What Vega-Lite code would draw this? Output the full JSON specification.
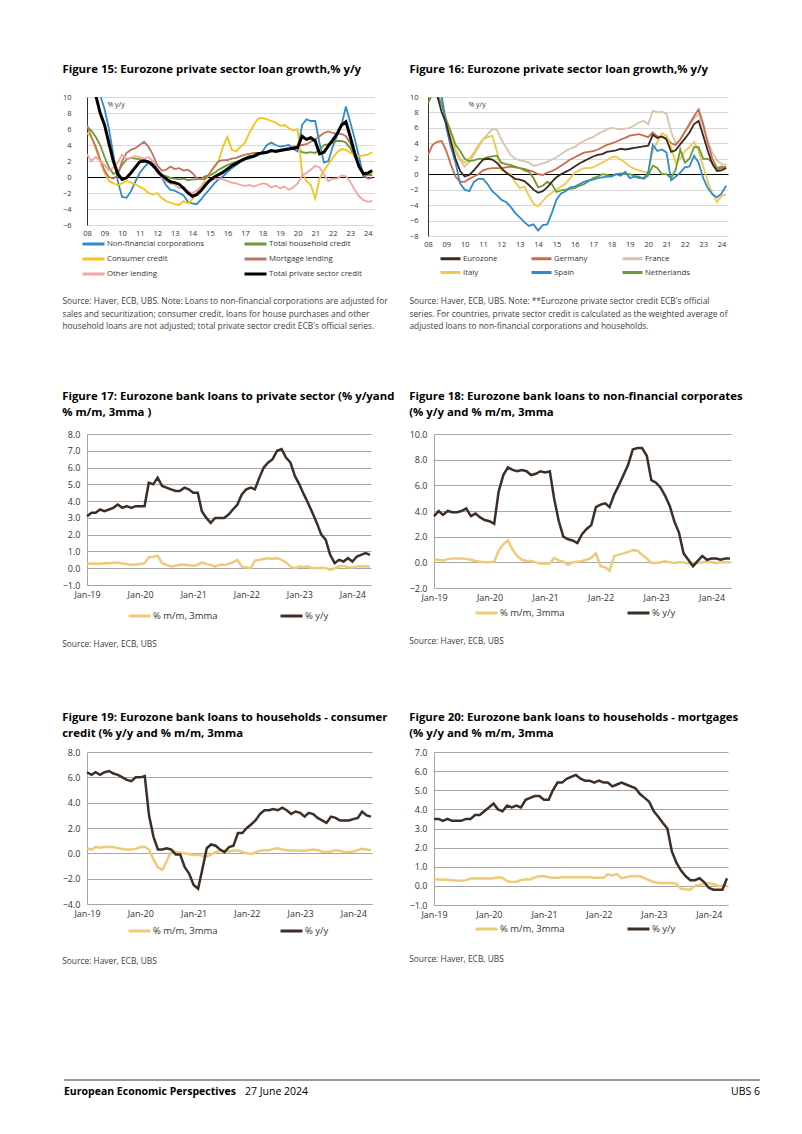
{
"$schema":"https://vega.github.io/schema/vega-lite/v6.json",
"background":"white",
"padding":{"left":62,"top":63,"right":8,"bottom":8},
"config":{
 "font":"Open Sans",
 "view":{"stroke":null},
 "title":{"font":"Open Sans","fontSize":11.4,"fontWeight":"bold","color":"#000000","anchor":"start"},
 "axis":{"labelFont":"Open Sans","labelColor":"#333333","ticks":false,"labelFlush":false,"labelOverlap":false},
 "legend":{"labelFont":"Open Sans","labelColor":"#333333"}
},
"datasets":{
"names":[{"k":"N","name":"Non-financial corporations"},{"k":"H","name":"Total household credit"},{"k":"C","name":"Consumer credit"},{"k":"M","name":"Mortgage lending"},{"k":"O","name":"Other lending"},{"k":"T","name":"Total private sector credit"},{"k":"E","name":"Eurozone"},{"k":"G","name":"Germany"},{"k":"F","name":"France"},{"k":"I","name":"Italy"},{"k":"S","name":"Spain"},{"k":"NL","name":"Netherlands"},{"k":"m","name":"% m/m, 3mma"},{"k":"y","name":"% y/y"}],
"f15":[
{"t":2008,"N":12,"H":6.3,"C":5.5,"M":6.5,"O":2.8,"T":11},
{"t":2008.25,"N":12,"H":5.8,"C":5,"M":5,"O":2,"T":11},
{"t":2008.5,"N":11.5,"H":5,"C":3.5,"M":3.8,"O":2.5,"T":10.2},
{"t":2008.75,"N":10.2,"H":4,"C":2,"M":2.2,"O":2,"T":8},
{"t":2009,"N":8.5,"H":2.5,"C":0.5,"M":0.8,"O":1.5,"T":6.5},
{"t":2009.25,"N":6,"H":1.2,"C":-0.5,"M":0,"O":0.8,"T":4.2},
{"t":2009.5,"N":2.8,"H":0.4,"C":-0.8,"M":-0.2,"O":1.2,"T":2},
{"t":2009.75,"N":-0.5,"H":0.6,"C":-1,"M":0.2,"O":1.8,"T":0.4},
{"t":2010,"N":-2.5,"H":1.5,"C":-0.8,"M":2,"O":2.8,"T":-0.3},
{"t":2010.25,"N":-2.6,"H":2.2,"C":-0.5,"M":3,"O":2.3,"T":-0.1},
{"t":2010.5,"N":-1.8,"H":2.4,"C":-0.7,"M":3.4,"O":2.4,"T":0.5},
{"t":2010.75,"N":-0.6,"H":2.3,"C":-0.9,"M":3.6,"O":2.6,"T":1.2},
{"t":2011,"N":0.5,"H":2.2,"C":-1.2,"M":4,"O":2.5,"T":1.9},
{"t":2011.25,"N":1.2,"H":2.2,"C":-1.5,"M":4.4,"O":2.3,"T":2},
{"t":2011.5,"N":1.8,"H":1.9,"C":-2,"M":3.8,"O":2.5,"T":1.9},
{"t":2011.75,"N":1.9,"H":1.3,"C":-2.2,"M":2.8,"O":2,"T":1.5},
{"t":2012,"N":1,"H":0.8,"C":-2,"M":1.5,"O":0.5,"T":0.8},
{"t":2012.25,"N":0,"H":0.3,"C":-2.6,"M":0.8,"O":0,"T":0.2},
{"t":2012.5,"N":-1,"H":0.1,"C":-3,"M":0.9,"O":-0.5,"T":-0.2},
{"t":2012.75,"N":-1.6,"H":-0.1,"C":-3.2,"M":1.3,"O":-0.8,"T":-0.6},
{"t":2013,"N":-1.7,"H":-0.2,"C":-3.4,"M":1,"O":-1,"T":-0.7},
{"t":2013.25,"N":-2,"H":-0.3,"C":-3.5,"M":1.1,"O":-1.4,"T":-0.9},
{"t":2013.5,"N":-2.3,"H":-0.2,"C":-3,"M":0.8,"O":-1.2,"T":-1.4},
{"t":2013.75,"N":-3.1,"H":-0.4,"C":-3.3,"M":0.9,"O":-1.8,"T":-2},
{"t":2014,"N":-3.3,"H":-0.3,"C":-2.8,"M":0.5,"O":-2,"T":-2.4},
{"t":2014.25,"N":-3.4,"H":-0.3,"C":-2,"M":-0.1,"O":-1.7,"T":-2.2},
{"t":2014.5,"N":-2.8,"H":-0.2,"C":-1.2,"M":-0.3,"O":-1.2,"T":-1.7},
{"t":2014.75,"N":-2.1,"H":0.1,"C":-0.3,"M":-0.2,"O":-0.7,"T":-1},
{"t":2015,"N":-1.5,"H":0.2,"C":0.4,"M":0.5,"O":-0.5,"T":-0.4},
{"t":2015.25,"N":-0.8,"H":0.5,"C":1.2,"M":1.3,"O":-0.3,"T":0},
{"t":2015.5,"N":-0.3,"H":0.9,"C":2,"M":2,"O":-0.2,"T":0.3},
{"t":2015.75,"N":0.1,"H":1.2,"C":3.8,"M":2.1,"O":-0.3,"T":0.6},
{"t":2016,"N":0.6,"H":1.5,"C":5,"M":2.1,"O":-0.5,"T":1},
{"t":2016.25,"N":1.1,"H":1.7,"C":3.4,"M":2.3,"O":-0.7,"T":1.4},
{"t":2016.5,"N":1.5,"H":1.9,"C":3.2,"M":2.4,"O":-0.8,"T":1.7},
{"t":2016.75,"N":1.9,"H":2.1,"C":3.8,"M":2.6,"O":-1,"T":2},
{"t":2017,"N":2.2,"H":2.3,"C":4.3,"M":2.8,"O":-1.1,"T":2.3},
{"t":2017.25,"N":2.3,"H":2.5,"C":5.5,"M":2.9,"O":-1,"T":2.5},
{"t":2017.5,"N":2.5,"H":2.7,"C":6.5,"M":3,"O":-1.2,"T":2.6},
{"t":2017.75,"N":2.7,"H":2.9,"C":7.3,"M":3,"O":-1,"T":2.9},
{"t":2018,"N":3.2,"H":3,"C":7.4,"M":3,"O":-0.8,"T":3},
{"t":2018.25,"N":4,"H":3.1,"C":7.2,"M":3.1,"O":-0.9,"T":3.1},
{"t":2018.5,"N":4.3,"H":3.2,"C":7,"M":3.3,"O":-1.3,"T":3.3},
{"t":2018.75,"N":4,"H":3.3,"C":6.8,"M":3.3,"O":-1.1,"T":3.2},
{"t":2019,"N":3.8,"H":3.3,"C":6.4,"M":3.4,"O":-1.4,"T":3.3},
{"t":2019.25,"N":3.9,"H":3.4,"C":6.5,"M":3.5,"O":-1.2,"T":3.4},
{"t":2019.5,"N":4,"H":3.5,"C":6.1,"M":3.6,"O":-1.6,"T":3.5},
{"t":2019.75,"N":3.5,"H":3.6,"C":5.8,"M":3.8,"O":-1.3,"T":3.6},
{"t":2020,"N":3.2,"H":3.6,"C":6,"M":3.9,"O":-0.8,"T":3.7},
{"t":2020.25,"N":6.5,"H":3.1,"C":0.5,"M":4,"O":0.2,"T":5.1},
{"t":2020.5,"N":7.2,"H":3,"C":-0.5,"M":4.1,"O":0.5,"T":4.7},
{"t":2020.75,"N":7,"H":3.1,"C":-1,"M":4.4,"O":0.9,"T":4.9},
{"t":2021,"N":7,"H":3,"C":-2.7,"M":4.7,"O":1.4,"T":4.5},
{"t":2021.25,"N":4.2,"H":3.4,"C":-0.2,"M":5.1,"O":1.2,"T":2.9},
{"t":2021.5,"N":1.8,"H":4,"C":0.8,"M":5.5,"O":0.3,"T":3.1},
{"t":2021.75,"N":2,"H":4.1,"C":1.6,"M":5.7,"O":-0.5,"T":3.9},
{"t":2022,"N":3.8,"H":4.3,"C":2.4,"M":5.5,"O":-0.2,"T":4.6},
{"t":2022.25,"N":5.2,"H":4.5,"C":3.1,"M":5.4,"O":-0.2,"T":5.4},
{"t":2022.5,"N":6.5,"H":4.5,"C":3.5,"M":5.4,"O":0.2,"T":6.5},
{"t":2022.75,"N":8.8,"H":4.3,"C":3.4,"M":5.1,"O":0.1,"T":6.9},
{"t":2023,"N":6.8,"H":3.6,"C":3,"M":4.2,"O":-0.6,"T":5},
{"t":2023.25,"N":4.8,"H":2.5,"C":2.8,"M":2.8,"O":-1.6,"T":3},
{"t":2023.5,"N":2.5,"H":1.3,"C":2.6,"M":1.2,"O":-2.4,"T":1.3},
{"t":2023.75,"N":0,"H":0.5,"C":2.7,"M":0.3,"O":-2.9,"T":0.4},
{"t":2024,"N":0.3,"H":0.3,"C":2.8,"M":-0.2,"O":-3.1,"T":0.5},
{"t":2024.25,"N":0.2,"H":0.3,"C":3.1,"M":-0.1,"O":-3,"T":0.8}
],
"f16":[
{"t":2008,"E":11,"G":2.5,"F":11,"I":11,"S":12,"NL":9.2},
{"t":2008.25,"E":11,"G":3.8,"F":11,"I":11,"S":12,"NL":10.5},
{"t":2008.5,"E":10.2,"G":4.2,"F":10.5,"I":11,"S":11.5,"NL":10.3},
{"t":2008.75,"E":8,"G":4.3,"F":9.5,"I":10,"S":10,"NL":9},
{"t":2009,"E":6.5,"G":3,"F":7,"I":7,"S":6,"NL":7},
{"t":2009.25,"E":4.2,"G":1.2,"F":4.8,"I":5,"S":3.5,"NL":5.5},
{"t":2009.5,"E":2,"G":-0.3,"F":3,"I":3.2,"S":1.5,"NL":3.8},
{"t":2009.75,"E":0.4,"G":-1,"F":1.8,"I":2,"S":-1.2,"NL":3},
{"t":2010,"E":-0.3,"G":-1,"F":1,"I":1.5,"S":-2,"NL":2},
{"t":2010.25,"E":-0.1,"G":-0.6,"F":1.6,"I":2,"S":-2.2,"NL":1.7},
{"t":2010.5,"E":0.5,"G":-0.3,"F":2.5,"I":2.8,"S":-1,"NL":1.8},
{"t":2010.75,"E":1.2,"G":0,"F":3.5,"I":3.8,"S":-0.6,"NL":2},
{"t":2011,"E":1.9,"G":0.5,"F":4.5,"I":4.5,"S":-0.6,"NL":2},
{"t":2011.25,"E":2,"G":0.7,"F":5.2,"I":4.8,"S":-1.3,"NL":2.2},
{"t":2011.5,"E":1.9,"G":0.8,"F":5.8,"I":5,"S":-2.2,"NL":2.3},
{"t":2011.75,"E":1.5,"G":0.8,"F":5.8,"I":3,"S":-2.7,"NL":2.4},
{"t":2012,"E":0.8,"G":0.8,"F":4.5,"I":0.5,"S":-3.3,"NL":1.5},
{"t":2012.25,"E":0.2,"G":0.9,"F":3.5,"I":0.3,"S":-3.6,"NL":1.3},
{"t":2012.5,"E":-0.2,"G":1,"F":2.5,"I":0,"S":-4.2,"NL":1.2},
{"t":2012.75,"E":-0.6,"G":0.9,"F":2,"I":-1,"S":-5,"NL":1},
{"t":2013,"E":-0.7,"G":0.8,"F":1.8,"I":-1.8,"S":-5.6,"NL":0.8},
{"t":2013.25,"E":-0.9,"G":0.7,"F":1.7,"I":-1.6,"S":-6.2,"NL":0.5},
{"t":2013.5,"E":-1.4,"G":0.5,"F":1.5,"I":-2.8,"S":-6.7,"NL":0.3},
{"t":2013.75,"E":-2,"G":0.3,"F":1.1,"I":-3.8,"S":-6.5,"NL":-0.5},
{"t":2014,"E":-2.4,"G":0,"F":1.2,"I":-4.2,"S":-7.3,"NL":-1.7},
{"t":2014.25,"E":-2.2,"G":-0.1,"F":1.4,"I":-3.5,"S":-6.6,"NL":-1.5},
{"t":2014.5,"E":-1.7,"G":0.2,"F":1.6,"I":-2.8,"S":-6.5,"NL":-1},
{"t":2014.75,"E":-1,"G":0.4,"F":1.9,"I":-2.4,"S":-5,"NL":-1.3},
{"t":2015,"E":-0.4,"G":0.7,"F":2.2,"I":-2,"S":-3.3,"NL":-2.3},
{"t":2015.25,"E":0,"G":1.1,"F":2.6,"I":-1.6,"S":-2.5,"NL":-2.1},
{"t":2015.5,"E":0.3,"G":1.5,"F":3,"I":-1.2,"S":-2.2,"NL":-2},
{"t":2015.75,"E":0.6,"G":1.9,"F":3.3,"I":-0.5,"S":-1.7,"NL":-1.9},
{"t":2016,"E":1,"G":2.2,"F":3.5,"I":0.2,"S":-1.6,"NL":-1.8},
{"t":2016.25,"E":1.4,"G":2.5,"F":4,"I":0.5,"S":-1.3,"NL":-1.5},
{"t":2016.5,"E":1.7,"G":2.8,"F":4.3,"I":0.8,"S":-1,"NL":-1.3},
{"t":2016.75,"E":2,"G":2.9,"F":4.6,"I":0.8,"S":-0.8,"NL":-0.9},
{"t":2017,"E":2.3,"G":3,"F":4.8,"I":0.9,"S":-0.7,"NL":-0.5},
{"t":2017.25,"E":2.5,"G":3.2,"F":5.2,"I":1.2,"S":-0.5,"NL":-0.3},
{"t":2017.5,"E":2.6,"G":3.5,"F":5.5,"I":1.5,"S":-0.4,"NL":0},
{"t":2017.75,"E":2.9,"G":3.8,"F":5.8,"I":1.8,"S":-0.3,"NL":-0.1},
{"t":2018,"E":3,"G":4,"F":6,"I":2.2,"S":-0.3,"NL":-0.2},
{"t":2018.25,"E":3.1,"G":4.2,"F":5.9,"I":2.3,"S":0,"NL":0},
{"t":2018.5,"E":3.3,"G":4.5,"F":5.8,"I":1.9,"S":-0.2,"NL":0.1},
{"t":2018.75,"E":3.2,"G":4.7,"F":5.9,"I":1.5,"S":0.3,"NL":0},
{"t":2019,"E":3.3,"G":5,"F":6,"I":1,"S":-0.5,"NL":0},
{"t":2019.25,"E":3.4,"G":5.1,"F":6.3,"I":0.7,"S":-0.3,"NL":-0.2},
{"t":2019.5,"E":3.5,"G":5.2,"F":6.7,"I":0.5,"S":-0.5,"NL":-0.3},
{"t":2019.75,"E":3.6,"G":5,"F":6.9,"I":0.3,"S":-0.5,"NL":-0.6},
{"t":2020,"E":3.7,"G":4.8,"F":6.5,"I":0.2,"S":0.2,"NL":-0.2},
{"t":2020.25,"E":5.1,"G":5.4,"F":8.2,"I":3,"S":3.8,"NL":1.1},
{"t":2020.5,"E":4.7,"G":4.9,"F":8,"I":4.2,"S":3,"NL":0.8},
{"t":2020.75,"E":4.9,"G":4.8,"F":8.1,"I":5.3,"S":3.2,"NL":0},
{"t":2021,"E":4.5,"G":4.7,"F":7.8,"I":5,"S":2.8,"NL":0},
{"t":2021.25,"E":2.9,"G":4,"F":5.5,"I":3.5,"S":-0.8,"NL":-0.5},
{"t":2021.5,"E":3.1,"G":3.8,"F":4,"I":1.5,"S":-0.3,"NL":0.6},
{"t":2021.75,"E":3.9,"G":4.5,"F":4.5,"I":2,"S":0.2,"NL":3.2},
{"t":2022,"E":4.6,"G":5.5,"F":5.5,"I":3,"S":0.9,"NL":1.5},
{"t":2022.25,"E":5.4,"G":6.5,"F":6.3,"I":3.5,"S":1,"NL":2},
{"t":2022.5,"E":6.5,"G":7.5,"F":7.2,"I":4.2,"S":2.4,"NL":3.5},
{"t":2022.75,"E":6.9,"G":8.4,"F":7.8,"I":3,"S":1.5,"NL":3.5},
{"t":2023,"E":5,"G":6.5,"F":6,"I":1,"S":-0.5,"NL":2},
{"t":2023.25,"E":3,"G":4,"F":4.2,"I":-1,"S":-1.8,"NL":2},
{"t":2023.5,"E":1.3,"G":2,"F":2.8,"I":-2.5,"S":-2.6,"NL":1.5},
{"t":2023.75,"E":0.4,"G":0.8,"F":1.8,"I":-3.6,"S":-3,"NL":0.6},
{"t":2024,"E":0.5,"G":1,"F":1.3,"I":-2.8,"S":-2.5,"NL":0.8},
{"t":2024.25,"E":0.8,"G":0.7,"F":1.2,"I":-2.6,"S":-1.5,"NL":1}
],
"f17":[
{"d":"2019-01-01","m":0.25,"y":3.1},{"d":"2019-02-01","m":0.28,"y":3.3},{"d":"2019-03-01","m":0.27,"y":3.3},{"d":"2019-04-01","m":0.27,"y":3.5},{"d":"2019-05-01","m":0.3,"y":3.4},{"d":"2019-06-01","m":0.3,"y":3.5},{"d":"2019-07-01","m":0.32,"y":3.6},{"d":"2019-08-01","m":0.33,"y":3.8},{"d":"2019-09-01","m":0.28,"y":3.6},{"d":"2019-10-01","m":0.25,"y":3.7},{"d":"2019-11-01","m":0.2,"y":3.6},{"d":"2019-12-01","m":0.22,"y":3.7},
{"d":"2020-01-01","m":0.25,"y":3.7},{"d":"2020-02-01","m":0.3,"y":3.7},{"d":"2020-03-01","m":0.65,"y":5.1},{"d":"2020-04-01","m":0.68,"y":5.0},{"d":"2020-05-01","m":0.75,"y":5.4},{"d":"2020-06-01","m":0.3,"y":4.9},{"d":"2020-07-01","m":0.2,"y":4.8},{"d":"2020-08-01","m":0.1,"y":4.7},{"d":"2020-09-01","m":0.15,"y":4.6},{"d":"2020-10-01","m":0.2,"y":4.6},{"d":"2020-11-01","m":0.2,"y":4.8},{"d":"2020-12-01","m":0.18,"y":4.7},
{"d":"2021-01-01","m":0.15,"y":4.5},{"d":"2021-02-01","m":0.2,"y":4.5},{"d":"2021-03-01","m":0.35,"y":3.4},{"d":"2021-04-01","m":0.25,"y":3.0},{"d":"2021-05-01","m":0.2,"y":2.7},{"d":"2021-06-01","m":0.1,"y":3.0},{"d":"2021-07-01","m":0.2,"y":3.0},{"d":"2021-08-01","m":0.2,"y":3.0},{"d":"2021-09-01","m":0.25,"y":3.2},{"d":"2021-10-01","m":0.35,"y":3.5},{"d":"2021-11-01","m":0.5,"y":3.8},{"d":"2021-12-01","m":0.1,"y":4.4},
{"d":"2022-01-01","m":0.05,"y":4.7},{"d":"2022-02-01","m":0.0,"y":4.8},{"d":"2022-03-01","m":0.45,"y":4.7},{"d":"2022-04-01","m":0.5,"y":5.4},{"d":"2022-05-01","m":0.55,"y":6.0},{"d":"2022-06-01","m":0.6,"y":6.3},{"d":"2022-07-01","m":0.55,"y":6.5},{"d":"2022-08-01","m":0.6,"y":7.0},{"d":"2022-09-01","m":0.5,"y":7.1},{"d":"2022-10-01","m":0.35,"y":6.6},{"d":"2022-11-01","m":0.1,"y":6.3},{"d":"2022-12-01","m":0.0,"y":5.5},
{"d":"2023-01-01","m":0.1,"y":5.0},{"d":"2023-02-01","m":0.08,"y":4.4},{"d":"2023-03-01","m":0.1,"y":3.9},{"d":"2023-04-01","m":0.0,"y":3.3},{"d":"2023-05-01","m":0.02,"y":2.7},{"d":"2023-06-01","m":0.03,"y":2.0},{"d":"2023-07-01","m":0.02,"y":1.7},{"d":"2023-08-01","m":-0.1,"y":0.8},{"d":"2023-09-01","m":0.0,"y":0.3},{"d":"2023-10-01","m":0.1,"y":0.5},{"d":"2023-11-01","m":0.15,"y":0.4},{"d":"2023-12-01","m":0.05,"y":0.6},
{"d":"2024-01-01","m":0.05,"y":0.4},{"d":"2024-02-01","m":0.1,"y":0.7},{"d":"2024-03-01","m":0.12,"y":0.8},{"d":"2024-04-01","m":0.1,"y":0.9},{"d":"2024-05-01","m":0.1,"y":0.8}
],
"f18":[
{"d":"2019-01-01","m":0.2,"y":3.6},{"d":"2019-02-01","m":0.2,"y":4.0},{"d":"2019-03-01","m":0.15,"y":3.7},{"d":"2019-04-01","m":0.25,"y":4.0},{"d":"2019-05-01","m":0.3,"y":3.9},{"d":"2019-06-01","m":0.3,"y":3.9},{"d":"2019-07-01","m":0.3,"y":4.0},{"d":"2019-08-01","m":0.25,"y":4.2},{"d":"2019-09-01","m":0.2,"y":3.6},{"d":"2019-10-01","m":0.1,"y":3.8},{"d":"2019-11-01","m":0.05,"y":3.5},{"d":"2019-12-01","m":0.0,"y":3.3},
{"d":"2020-01-01","m":0.0,"y":3.2},{"d":"2020-02-01","m":0.05,"y":3.0},{"d":"2020-03-01","m":0.9,"y":5.5},{"d":"2020-04-01","m":1.4,"y":6.8},{"d":"2020-05-01","m":1.7,"y":7.4},{"d":"2020-06-01","m":1.0,"y":7.2},{"d":"2020-07-01","m":0.5,"y":7.1},{"d":"2020-08-01","m":0.2,"y":7.2},{"d":"2020-09-01","m":0.1,"y":7.1},{"d":"2020-10-01","m":0.1,"y":6.8},{"d":"2020-11-01","m":0.0,"y":6.9},{"d":"2020-12-01","m":-0.1,"y":7.1},
{"d":"2021-01-01","m":-0.1,"y":7.0},{"d":"2021-02-01","m":-0.1,"y":7.1},{"d":"2021-03-01","m":0.35,"y":5.0},{"d":"2021-04-01","m":0.15,"y":3.2},{"d":"2021-05-01","m":0.05,"y":2.0},{"d":"2021-06-01","m":-0.2,"y":1.8},{"d":"2021-07-01","m":0.0,"y":1.7},{"d":"2021-08-01","m":0.05,"y":1.5},{"d":"2021-09-01","m":0.1,"y":2.2},{"d":"2021-10-01","m":0.2,"y":2.6},{"d":"2021-11-01","m":0.35,"y":2.9},{"d":"2021-12-01","m":0.7,"y":4.3},
{"d":"2022-01-01","m":-0.3,"y":4.5},{"d":"2022-02-01","m":-0.4,"y":4.6},{"d":"2022-03-01","m":-0.65,"y":4.3},{"d":"2022-04-01","m":0.5,"y":5.3},{"d":"2022-05-01","m":0.6,"y":6.0},{"d":"2022-06-01","m":0.7,"y":6.8},{"d":"2022-07-01","m":0.8,"y":7.6},{"d":"2022-08-01","m":0.95,"y":8.8},{"d":"2022-09-01","m":0.9,"y":8.9},{"d":"2022-10-01","m":0.6,"y":8.9},{"d":"2022-11-01","m":0.3,"y":8.3},{"d":"2022-12-01","m":-0.05,"y":6.4},
{"d":"2023-01-01","m":-0.05,"y":6.2},{"d":"2023-02-01","m":0.0,"y":5.8},{"d":"2023-03-01","m":0.1,"y":5.2},{"d":"2023-04-01","m":0.0,"y":4.4},{"d":"2023-05-01","m":-0.05,"y":3.2},{"d":"2023-06-01","m":0.0,"y":2.3},{"d":"2023-07-01","m":0.0,"y":0.7},{"d":"2023-08-01","m":-0.1,"y":0.2},{"d":"2023-09-01","m":-0.1,"y":-0.3},{"d":"2023-10-01","m":-0.05,"y":0.1},{"d":"2023-11-01","m":0.0,"y":0.5},{"d":"2023-12-01","m":0.05,"y":0.2},
{"d":"2024-01-01","m":0.0,"y":0.3},{"d":"2024-02-01","m":-0.05,"y":0.3},{"d":"2024-03-01","m":0.0,"y":0.2},{"d":"2024-04-01","m":0.0,"y":0.3},{"d":"2024-05-01","m":0.0,"y":0.3}
],
"f19":[
{"d":"2019-01-01","m":0.4,"y":6.4},{"d":"2019-02-01","m":0.3,"y":6.2},{"d":"2019-03-01","m":0.5,"y":6.4},{"d":"2019-04-01","m":0.45,"y":6.2},{"d":"2019-05-01","m":0.5,"y":6.4},{"d":"2019-06-01","m":0.5,"y":6.5},{"d":"2019-07-01","m":0.5,"y":6.3},{"d":"2019-08-01","m":0.4,"y":6.2},{"d":"2019-09-01","m":0.35,"y":6.0},{"d":"2019-10-01","m":0.3,"y":5.8},{"d":"2019-11-01","m":0.3,"y":5.7},{"d":"2019-12-01","m":0.35,"y":6.0},
{"d":"2020-01-01","m":0.5,"y":6.0},{"d":"2020-02-01","m":0.5,"y":6.1},{"d":"2020-03-01","m":0.3,"y":3.0},{"d":"2020-04-01","m":-0.5,"y":1.3},{"d":"2020-05-01","m":-1.1,"y":0.3},{"d":"2020-06-01","m":-1.3,"y":0.3},{"d":"2020-07-01","m":-0.6,"y":0.4},{"d":"2020-08-01","m":0.2,"y":0.3},{"d":"2020-09-01","m":0.1,"y":-0.1},{"d":"2020-10-01","m":0.05,"y":-0.1},{"d":"2020-11-01","m":0.0,"y":-1.1},{"d":"2020-12-01","m":-0.05,"y":-1.6},
{"d":"2021-01-01","m":-0.15,"y":-2.5},{"d":"2021-02-01","m":-0.1,"y":-2.8},{"d":"2021-03-01","m":-0.2,"y":-1.3},{"d":"2021-04-01","m":-0.25,"y":0.4},{"d":"2021-05-01","m":-0.1,"y":0.7},{"d":"2021-06-01","m":0.1,"y":0.6},{"d":"2021-07-01","m":0.2,"y":0.3},{"d":"2021-08-01","m":0.2,"y":0.1},{"d":"2021-09-01","m":0.15,"y":0.5},{"d":"2021-10-01","m":0.2,"y":0.6},{"d":"2021-11-01","m":0.25,"y":1.6},{"d":"2021-12-01","m":0.1,"y":1.6},
{"d":"2022-01-01","m":0.0,"y":2.0},{"d":"2022-02-01","m":-0.05,"y":2.3},{"d":"2022-03-01","m":0.1,"y":2.6},{"d":"2022-04-01","m":0.2,"y":3.1},{"d":"2022-05-01","m":0.25,"y":3.4},{"d":"2022-06-01","m":0.25,"y":3.4},{"d":"2022-07-01","m":0.35,"y":3.5},{"d":"2022-08-01","m":0.4,"y":3.4},{"d":"2022-09-01","m":0.3,"y":3.6},{"d":"2022-10-01","m":0.25,"y":3.4},{"d":"2022-11-01","m":0.2,"y":3.1},{"d":"2022-12-01","m":0.25,"y":3.3},
{"d":"2023-01-01","m":0.2,"y":3.2},{"d":"2023-02-01","m":0.2,"y":2.9},{"d":"2023-03-01","m":0.25,"y":3.2},{"d":"2023-04-01","m":0.3,"y":3.1},{"d":"2023-05-01","m":0.25,"y":2.8},{"d":"2023-06-01","m":0.15,"y":2.6},{"d":"2023-07-01","m":0.1,"y":2.4},{"d":"2023-08-01","m":0.15,"y":2.9},{"d":"2023-09-01","m":0.25,"y":2.8},{"d":"2023-10-01","m":0.2,"y":2.6},{"d":"2023-11-01","m":0.1,"y":2.6},{"d":"2023-12-01","m":0.1,"y":2.6},
{"d":"2024-01-01","m":0.15,"y":2.7},{"d":"2024-02-01","m":0.25,"y":2.8},{"d":"2024-03-01","m":0.35,"y":3.3},{"d":"2024-04-01","m":0.3,"y":3.0},{"d":"2024-05-01","m":0.25,"y":2.9}
],
"f20":[
{"d":"2019-01-01","m":0.35,"y":3.5},{"d":"2019-02-01","m":0.33,"y":3.5},{"d":"2019-03-01","m":0.33,"y":3.4},{"d":"2019-04-01","m":0.32,"y":3.5},{"d":"2019-05-01","m":0.3,"y":3.4},{"d":"2019-06-01","m":0.28,"y":3.4},{"d":"2019-07-01","m":0.27,"y":3.4},{"d":"2019-08-01","m":0.3,"y":3.5},{"d":"2019-09-01","m":0.38,"y":3.5},{"d":"2019-10-01","m":0.4,"y":3.7},{"d":"2019-11-01","m":0.38,"y":3.7},{"d":"2019-12-01","m":0.4,"y":3.9},
{"d":"2020-01-01","m":0.38,"y":4.1},{"d":"2020-02-01","m":0.4,"y":4.3},{"d":"2020-03-01","m":0.45,"y":4.0},{"d":"2020-04-01","m":0.42,"y":3.9},{"d":"2020-05-01","m":0.25,"y":4.2},{"d":"2020-06-01","m":0.2,"y":4.1},{"d":"2020-07-01","m":0.22,"y":4.2},{"d":"2020-08-01","m":0.3,"y":4.1},{"d":"2020-09-01","m":0.35,"y":4.5},{"d":"2020-10-01","m":0.33,"y":4.6},{"d":"2020-11-01","m":0.45,"y":4.7},{"d":"2020-12-01","m":0.5,"y":4.7},
{"d":"2021-01-01","m":0.52,"y":4.5},{"d":"2021-02-01","m":0.45,"y":4.5},{"d":"2021-03-01","m":0.42,"y":5.0},{"d":"2021-04-01","m":0.42,"y":5.4},{"d":"2021-05-01","m":0.45,"y":5.4},{"d":"2021-06-01","m":0.45,"y":5.6},{"d":"2021-07-01","m":0.45,"y":5.7},{"d":"2021-08-01","m":0.45,"y":5.8},{"d":"2021-09-01","m":0.45,"y":5.6},{"d":"2021-10-01","m":0.45,"y":5.5},{"d":"2021-11-01","m":0.45,"y":5.5},{"d":"2021-12-01","m":0.43,"y":5.4},
{"d":"2022-01-01","m":0.43,"y":5.5},{"d":"2022-02-01","m":0.42,"y":5.4},{"d":"2022-03-01","m":0.6,"y":5.4},{"d":"2022-04-01","m":0.55,"y":5.2},{"d":"2022-05-01","m":0.62,"y":5.3},{"d":"2022-06-01","m":0.4,"y":5.4},{"d":"2022-07-01","m":0.45,"y":5.3},{"d":"2022-08-01","m":0.5,"y":5.2},{"d":"2022-09-01","m":0.52,"y":5.1},{"d":"2022-10-01","m":0.5,"y":4.8},{"d":"2022-11-01","m":0.4,"y":4.6},{"d":"2022-12-01","m":0.3,"y":4.4},
{"d":"2023-01-01","m":0.2,"y":3.9},{"d":"2023-02-01","m":0.15,"y":3.6},{"d":"2023-03-01","m":0.15,"y":3.3},{"d":"2023-04-01","m":0.15,"y":3.0},{"d":"2023-05-01","m":0.15,"y":1.8},{"d":"2023-06-01","m":0.1,"y":1.2},{"d":"2023-07-01","m":-0.15,"y":0.8},{"d":"2023-08-01","m":-0.18,"y":0.5},{"d":"2023-09-01","m":-0.2,"y":0.3},{"d":"2023-10-01","m":0.0,"y":0.3},{"d":"2023-11-01","m":0.05,"y":0.4},{"d":"2023-12-01","m":0.1,"y":0.2},
{"d":"2024-01-01","m":0.15,"y":-0.1},{"d":"2024-02-01","m":0.1,"y":-0.2},{"d":"2024-03-01","m":0.0,"y":-0.2},{"d":"2024-04-01","m":0.0,"y":-0.2},{"d":"2024-05-01","m":0.05,"y":0.4}
]
},
"resolve":{"scale":{"color":"independent"},"legend":{"color":"independent"}},
"concat":[
{"concat":[
 {"concat":[
 {"hconcat":[
  {"title":{"text":"Figure 15: Eurozone private sector loan growth,% y/y","offset":18},
   "resolve":{"scale":{"color":"independent"},"legend":{"color":"independent"}},
   "vconcat":[{
    "width":287,"height":128,
    "title":{"text":["Source: Haver, ECB, UBS. Note: Loans to non-financial corporations are adjusted for","sales and securitization; consumer credit, loans for house purchases and other","household loans are not adjusted; total private sector credit ECB's official series."],"orient":"bottom","anchor":"start","fontSize":8.4,"fontWeight":"normal","color":"#404040","lineHeight":12.5,"offset":17},
    "data":{"name":"f15"},
    "transform":[{"fold":["N","H","C","M","O","T"],"as":["k","v"]},{"lookup":"k","from":{"data":{"name":"names"},"key":"k","fields":["name"]}}],
    "mark":{"type":"line","clip":true},
    "encoding":{
     "x":{"field":"t","type":"quantitative","scale":{"domain":[2008,2024.35],"nice":false,"zero":false},"axis":{"values":[2008,2009,2010,2011,2012,2013,2014,2015,2016,2017,2018,2019,2020,2021,2022,2023,2024],"tickCount":30,"labelExpr":"substring(toString(datum.value),2)","labelFontSize":7.5,"grid":false,"domain":false,"title":null,"labelPadding":4}},
     "y":{"field":"v","type":"quantitative","scale":{"domain":[-6,10],"nice":false},"axis":{"values":[-6,-4,-2,0,2,4,6,8,10],"tickCount":30,"format":"d","labelFontSize":7.5,"labelPadding":16,"domain":true,"domainColor":"#333333","grid":true,"gridColor":{"condition":{"test":"datum.value === 0","value":"#000000"},"value":"#D9D9D9"},"title":"% y/y","titleAngle":0,"titleAlign":"left","titleBaseline":"middle","titleX":20,"titleY":7,"titleFontSize":7,"titleFontWeight":"normal","titleColor":"#333333"}},
     "color":{"field":"name","type":"nominal","scale":{"domain":["Non-financial corporations","Total household credit","Consumer credit","Mortgage lending","Other lending","Total private sector credit"],"range":["#2E8BCF","#6E9B31","#F7C31A","#C0735E","#F5A3A3","#000000"]},
      "legend":{"orient":"none","legendX":-6,"legendY":140,"columns":2,"direction":"horizontal","title":null,"symbolType":"M-1,0H3","symbolSize":121,"symbolStrokeWidth":3,"labelFontSize":7.8,"labelOffset":12,"columnPadding":34,"rowPadding":2}},
     "strokeWidth":{"condition":{"test":"datum.k === 'T'","value":3},"value":1.8}
    }
   }]
  },
  {"title":{"text":"Figure 16: Eurozone private sector loan growth,% y/y","offset":18},
   "resolve":{"scale":{"color":"independent"},"legend":{"color":"independent"}},
   "vconcat":[{
    "width":300,"height":139,
    "title":{"text":["Source: Haver, ECB, UBS. Note: **Eurozone private sector credit ECB's official","series. For countries, private sector credit is calculated as the weighted average of","adjusted loans to non-financial corporations and households."],"orient":"bottom","anchor":"start","fontSize":8.4,"fontWeight":"normal","color":"#404040","lineHeight":12.5,"offset":18},
    "data":{"name":"f16"},
    "transform":[{"fold":["F","G","I","NL","S","E"],"as":["k","v"]},{"lookup":"k","from":{"data":{"name":"names"},"key":"k","fields":["name"]}}],
    "mark":{"type":"line","clip":true,"strokeWidth":1.8},
    "encoding":{
     "x":{"field":"t","type":"quantitative","scale":{"domain":[2008,2024.35],"nice":false,"zero":false},"axis":{"values":[2008,2009,2010,2011,2012,2013,2014,2015,2016,2017,2018,2019,2020,2021,2022,2023,2024],"tickCount":30,"labelExpr":"substring(toString(datum.value),2)","labelFontSize":7.5,"grid":false,"domain":false,"title":null,"labelPadding":4}},
     "y":{"field":"v","type":"quantitative","scale":{"domain":[-8,10],"nice":false},"axis":{"values":[-8,-6,-4,-2,0,2,4,6,8,10],"tickCount":30,"format":"d","labelFontSize":7.5,"labelPadding":10,"domain":true,"domainColor":"#333333","grid":true,"gridColor":{"condition":{"test":"datum.value === 0","value":"#000000"},"value":"#D9D9D9"},"title":"% y/y","titleAngle":0,"titleAlign":"left","titleBaseline":"middle","titleX":40,"titleY":7,"titleFontSize":7,"titleFontWeight":"normal","titleColor":"#333333"}},
     "color":{"field":"name","type":"nominal","scale":{"domain":["Eurozone","Germany","France","Italy","Spain","Netherlands"],"range":["#3B2A20","#CD6A4E","#D8C4A8","#F0C84A","#2E8BCF","#6E9B31"]},
      "legend":{"orient":"none","legendX":11,"legendY":155,"columns":3,"direction":"horizontal","title":null,"symbolType":"M-1,0H3","symbolSize":100,"symbolStrokeWidth":3,"labelFontSize":7.8,"labelOffset":11,"columnPadding":17,"rowPadding":1,"gridAlign":"all"}}
    }
   }]
  }
 ],"spacing":21,"resolve":{"scale":{"color":"independent"},"legend":{"color":"independent"}}}
 ],"columns":1,"align":"none","spacing":10,"resolve":{"scale":{"color":"independent"},"legend":{"color":"independent"}}},
 {"concat":[
 {"hconcat":[
  {"title":{"text":["Figure 17: Eurozone bank loans to private sector (% y/yand","% m/m, 3mma )"],"offset":12,"lineHeight":16},
   "resolve":{"scale":{"color":"independent"},"legend":{"color":"independent"}},
   "vconcat":[{
    "width":284,"height":151,
    "data":{"name":"f17"},
    "transform":[{"fold":["m","y"],"as":["k","v"]},{"lookup":"k","from":{"data":{"name":"names"},"key":"k","fields":["name"]}}],
    "title":{"text":"Source: Haver, ECB, UBS","orient":"bottom","anchor":"start","fontSize":8.4,"fontWeight":"normal","color":"#404040","offset":18},
    "mark":{"type":"line","strokeWidth":2.5},
    "encoding":{
     "x":{"field":"d","type":"temporal","scale":{"type":"utc","domain":[{"year":2019,"month":1,"date":1,"utc":true},{"year":2024,"month":5,"date":8,"utc":true}]},"axis":{"values":[{"year":2019,"month":1,"date":1,"utc":true},{"year":2020,"month":1,"date":1,"utc":true},{"year":2021,"month":1,"date":1,"utc":true},{"year":2022,"month":1,"date":1,"utc":true},{"year":2023,"month":1,"date":1,"utc":true},{"year":2024,"month":1,"date":1,"utc":true}],"format":"%b-%y","labelFontSize":9,"grid":false,"domain":true,"domainColor":"#A6A6A6","title":null,"labelPadding":5}},
     "y":{"field":"v","type":"quantitative","scale":{"domain":[-1,8],"nice":false},"axis":{"values":[-1,0,1,2,3,4,5,6,7,8],"tickCount":30,"format":".1f","labelFontSize":9,"labelPadding":7,"grid":true,"gridColor":"#A6A6A6","domain":true,"domainColor":"#A6A6A6","title":null}},
     "color":{"field":"name","type":"nominal","scale":{"domain":["% m/m, 3mma","% y/y"],"range":["#EDCB78","#3D2E26"]},
      "legend":{"orient":"none","legendX":40,"legendY":175,"direction":"horizontal","title":null,"symbolType":"M-1,0H3","symbolSize":121,"symbolStrokeWidth":3,"labelFontSize":9.5,"labelOffset":12,"columnPadding":56}}
    }
   }]
  },
  {"title":{"text":["Figure 18: Eurozone bank loans to non-financial corporates","(% y/y and % m/m, 3mma"],"offset":12,"lineHeight":16},
   "resolve":{"scale":{"color":"independent"},"legend":{"color":"independent"}},
   "vconcat":[{
    "width":297,"height":154,
    "data":{"name":"f18"},
    "transform":[{"fold":["m","y"],"as":["k","v"]},{"lookup":"k","from":{"data":{"name":"names"},"key":"k","fields":["name"]}}],
    "title":{"text":"Source: Haver, ECB, UBS","orient":"bottom","anchor":"start","fontSize":8.4,"fontWeight":"normal","color":"#404040","offset":18},
    "mark":{"type":"line","strokeWidth":2.5},
    "encoding":{
     "x":{"field":"d","type":"temporal","scale":{"type":"utc","domain":[{"year":2019,"month":1,"date":1,"utc":true},{"year":2024,"month":5,"date":8,"utc":true}]},"axis":{"values":[{"year":2019,"month":1,"date":1,"utc":true},{"year":2020,"month":1,"date":1,"utc":true},{"year":2021,"month":1,"date":1,"utc":true},{"year":2022,"month":1,"date":1,"utc":true},{"year":2023,"month":1,"date":1,"utc":true},{"year":2024,"month":1,"date":1,"utc":true}],"format":"%b-%y","labelFontSize":9,"grid":false,"domain":true,"domainColor":"#A6A6A6","title":null,"labelPadding":5}},
     "y":{"field":"v","type":"quantitative","scale":{"domain":[-2,10],"nice":false},"axis":{"values":[-2,0,2,4,6,8,10],"tickCount":30,"format":".1f","labelFontSize":9,"labelPadding":7,"grid":true,"gridColor":"#A6A6A6","domain":true,"domainColor":"#A6A6A6","title":null}},
     "color":{"field":"name","type":"nominal","scale":{"domain":["% m/m, 3mma","% y/y"],"range":["#EDCB78","#3D2E26"]},
      "legend":{"orient":"none","legendX":40,"legendY":172,"direction":"horizontal","title":null,"symbolType":"M-1,0H3","symbolSize":121,"symbolStrokeWidth":3,"labelFontSize":9.5,"labelOffset":12,"columnPadding":56}}
    }
   }]
  }
 ],"spacing":14,"resolve":{"scale":{"color":"independent"},"legend":{"color":"independent"}}},
 {"hconcat":[
  {"title":{"text":["Figure 19: Eurozone bank loans to households - consumer","credit (% y/y and % m/m, 3mma"],"offset":9,"lineHeight":16},
   "resolve":{"scale":{"color":"independent"},"legend":{"color":"independent"}},
   "vconcat":[{
    "width":285,"height":152,
    "data":{"name":"f19"},
    "transform":[{"fold":["m","y"],"as":["k","v"]},{"lookup":"k","from":{"data":{"name":"names"},"key":"k","fields":["name"]}}],
    "title":{"text":"Source: Haver, ECB, UBS","orient":"bottom","anchor":"start","fontSize":8.4,"fontWeight":"normal","color":"#404040","offset":20},
    "mark":{"type":"line","strokeWidth":2.5},
    "encoding":{
     "x":{"field":"d","type":"temporal","scale":{"type":"utc","domain":[{"year":2019,"month":1,"date":1,"utc":true},{"year":2024,"month":5,"date":8,"utc":true}]},"axis":{"values":[{"year":2019,"month":1,"date":1,"utc":true},{"year":2020,"month":1,"date":1,"utc":true},{"year":2021,"month":1,"date":1,"utc":true},{"year":2022,"month":1,"date":1,"utc":true},{"year":2023,"month":1,"date":1,"utc":true},{"year":2024,"month":1,"date":1,"utc":true}],"format":"%b-%y","labelFontSize":9,"grid":false,"domain":true,"domainColor":"#A6A6A6","title":null,"labelPadding":5}},
     "y":{"field":"v","type":"quantitative","scale":{"domain":[-4,8],"nice":false},"axis":{"values":[-4,-2,0,2,4,6,8],"tickCount":30,"format":".1f","labelFontSize":9,"labelPadding":7,"grid":true,"gridColor":"#A6A6A6","domain":true,"domainColor":"#A6A6A6","title":null}},
     "color":{"field":"name","type":"nominal","scale":{"domain":["% m/m, 3mma","% y/y"],"range":["#EDCB78","#3D2E26"]},
      "legend":{"orient":"none","legendX":40,"legendY":172,"direction":"horizontal","title":null,"symbolType":"M-1,0H3","symbolSize":121,"symbolStrokeWidth":3,"labelFontSize":9.5,"labelOffset":12,"columnPadding":56}}
    }
   }]
  },
  {"title":{"text":["Figure 20: Eurozone bank loans to households - mortgages","(% y/y and % m/m, 3mma"],"offset":9,"lineHeight":16},
   "resolve":{"scale":{"color":"independent"},"legend":{"color":"independent"}},
   "vconcat":[{
    "width":294,"height":153,
    "data":{"name":"f20"},
    "transform":[{"fold":["m","y"],"as":["k","v"]},{"lookup":"k","from":{"data":{"name":"names"},"key":"k","fields":["name"]}}],
    "title":{"text":"Source: Haver, ECB, UBS","orient":"bottom","anchor":"start","fontSize":8.4,"fontWeight":"normal","color":"#404040","offset":20},
    "mark":{"type":"line","strokeWidth":2.5},
    "encoding":{
     "x":{"field":"d","type":"temporal","scale":{"type":"utc","domain":[{"year":2019,"month":1,"date":1,"utc":true},{"year":2024,"month":5,"date":8,"utc":true}]},"axis":{"values":[{"year":2019,"month":1,"date":1,"utc":true},{"year":2020,"month":1,"date":1,"utc":true},{"year":2021,"month":1,"date":1,"utc":true},{"year":2022,"month":1,"date":1,"utc":true},{"year":2023,"month":1,"date":1,"utc":true},{"year":2024,"month":1,"date":1,"utc":true}],"format":"%b-%y","labelFontSize":9,"grid":false,"domain":true,"domainColor":"#A6A6A6","title":null,"labelPadding":5}},
     "y":{"field":"v","type":"quantitative","scale":{"domain":[-1,7],"nice":false},"axis":{"values":[-1,0,1,2,3,4,5,6,7],"tickCount":30,"format":".1f","labelFontSize":9,"labelPadding":7,"grid":true,"gridColor":"#A6A6A6","domain":true,"domainColor":"#A6A6A6","title":null}},
     "color":{"field":"name","type":"nominal","scale":{"domain":["% m/m, 3mma","% y/y"],"range":["#EDCB78","#3D2E26"]},
      "legend":{"orient":"none","legendX":40,"legendY":170,"direction":"horizontal","title":null,"symbolType":"M-1,0H3","symbolSize":121,"symbolStrokeWidth":3,"labelFontSize":9.5,"labelOffset":12,"columnPadding":56}}
    }
   }]
  }
 ],"spacing":21,"resolve":{"scale":{"color":"independent"},"legend":{"color":"independent"}}}
 ],"columns":1,"align":"none","spacing":62,"resolve":{"scale":{"color":"independent"},"legend":{"color":"independent"}}}
],"columns":1,"align":"none","spacing":59,"resolve":{"scale":{"color":"independent"},"legend":{"color":"independent"}}},
{"width":673,"height":15,
 "data":{"values":[{}]},
 "layer":[
  {"mark":{"type":"rule","color":"#333333","strokeWidth":1},"encoding":{"x":{"datum":-0.0342,"type":"quantitative","scale":{"domain":[0,1],"nice":false,"zero":false},"axis":null},"x2":{"datum":1},"y":{"datum":1,"type":"quantitative","scale":{"domain":[0,1]},"axis":null}}},
  {"mark":{"type":"text","align":"left","baseline":"alphabetic","fontSize":10.5,"fontWeight":"bold","color":"#000000"},"encoding":{"x":{"datum":-0.0342,"type":"quantitative","axis":null},"y":{"datum":0,"type":"quantitative","axis":null},"text":{"value":"European Economic Perspectives"}}},
  {"mark":{"type":"text","align":"left","baseline":"alphabetic","fontSize":10.5,"dx":181,"color":"#000000"},"encoding":{"x":{"datum":-0.0342,"type":"quantitative","axis":null},"y":{"datum":0,"type":"quantitative","axis":null},"text":{"value":"27 June 2024"}}},
  {"mark":{"type":"text","align":"right","baseline":"alphabetic","fontSize":10.5,"color":"#000000"},"encoding":{"x":{"datum":1,"type":"quantitative","axis":null},"y":{"datum":0,"type":"quantitative","axis":null},"text":{"value":"UBS  6"}}}
 ]}
],
"columns":1,"align":"none","spacing":113
}
